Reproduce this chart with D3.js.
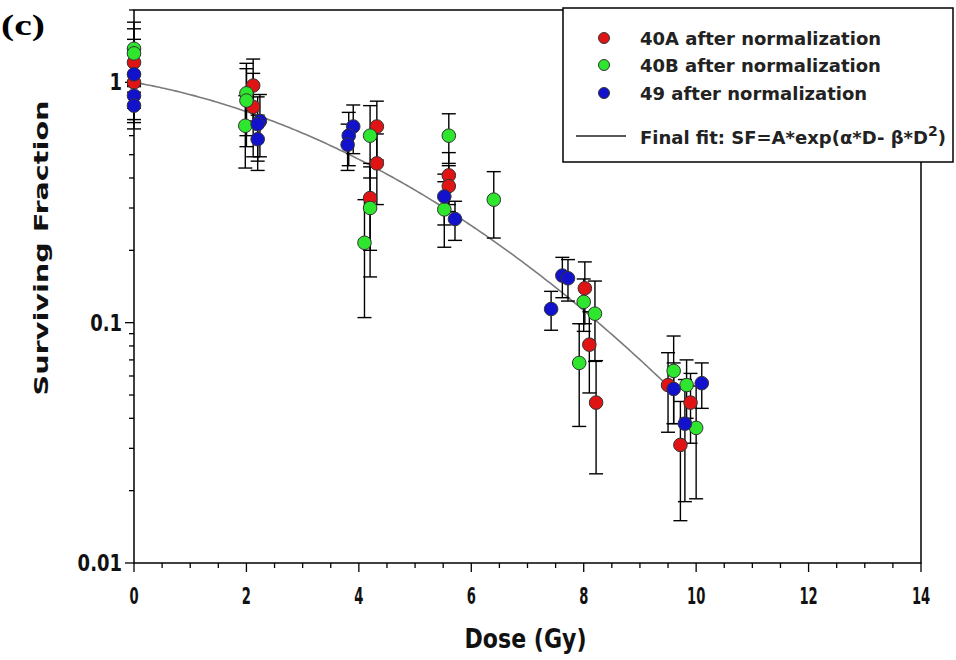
<!DOCTYPE html>
<html><head><meta charset="utf-8">
<script src="https://cdn.jsdelivr.net/npm/d3@7"></script>
<style>body{margin:0;background:#fff}svg{display:block}</style>
</head><body>
<script>
// ---- data ----
const dose40A = [0, 0, 2.12, 2.12, 4.32, 4.32, 4.2, 5.6, 5.6, 8.02, 8.1, 8.22, 9.5, 9.9, 9.72];
const sf40A   = [1.21, 1.0, 0.97, 0.79, 0.655, 0.46, 0.33, 0.41, 0.37, 0.139, 0.081, 0.0465, 0.055, 0.0465, 0.031];
const err40A  = [0.3, 0.3, 0.28, 0.3, 0.18, 0.15, 0.13, 0.1, 0.08, 0.04, 0.03, 0.023, 0.02, 0.015, 0.016];

const dose40B = [0, 0, 2.0, 2.0, 1.98, 4.2, 4.2, 4.1, 5.6, 5.52, 6.4, 8.0, 8.2, 7.92, 9.6, 9.83, 10.0];
const sf40B   = [1.38, 1.32, 0.90, 0.84, 0.66, 0.6, 0.30, 0.215, 0.6, 0.296, 0.325, 0.122, 0.109, 0.068, 0.063, 0.055, 0.0365];
const err40B  = [0.4, 0.35, 0.3, 0.3, 0.22, 0.2, 0.145, 0.11, 0.14, 0.09, 0.1, 0.03, 0.04, 0.031, 0.025, 0.015, 0.018];

const dose49 = [0, 0, 0, 2.24, 2.2, 2.2, 3.9, 3.82, 3.8, 5.52, 5.71, 7.42, 7.62, 7.72, 9.6, 10.1, 9.8];
const sf49   = [1.08, 0.88, 0.8, 0.69, 0.67, 0.58, 0.655, 0.6, 0.55, 0.335, 0.27, 0.114, 0.157, 0.153, 0.053, 0.056, 0.038];
const err49  = [0.3, 0.2, 0.16, 0.2, 0.2, 0.15, 0.15, 0.15, 0.12, 0.08, 0.05, 0.021, 0.03, 0.03, 0.015, 0.012, 0.02];

const seriesNames = ["40A after normalization", "40B after normalization", "49 after normalization"];
const fitLabel = "Final fit: SF=A*exp(\u03B1*D- \u03B2*D";
const fitA = 1.0, fitAlpha = 0.0958, fitBeta = 0.02216, fitDoseMax = 9.5;
const xTicks = [0, 2, 4, 6, 8, 10, 12, 14];
const yTicks = [0.01, 0.1, 1];

// ---- layout ----
const W = 956, H = 660;
const L = 134, R = 921, T = 10, B = 563;
const colors = ["#e01414", "#2ee62e", "#1212cc"];
const SANS = "'DejaVu Sans','Liberation Sans',Arial,sans-serif";

const svg = d3.select("body").append("svg").attr("width", W).attr("height", H);
const x = d3.scaleLinear().domain([0, 14]).range([L, R]);
const y = d3.scaleLog().domain([0.01, 2]).range([B, T]);

function label(parent, px, py, str, o) {
  const g = parent.append("g").attr("transform",
    `translate(${px},${py})` + (o.rot ? ` rotate(${o.rot})` : "") + ` scale(${o.sx || 1},${o.sy || 1})`);
  const t = g.append("text").attr("x", 0).attr("y", 0).attr("text-anchor", o.anchor || "start")
    .style("font-family", o.family || SANS).style("font-weight", "bold")
    .style("font-size", o.size + "px").style("fill", o.fill || "#111").text(str);
  if (o.len) t.attr("textLength", o.len).attr("lengthAdjust", "spacingAndGlyphs");
  return t;
}

// frame
svg.append("rect").attr("x", L).attr("y", T).attr("width", R - L).attr("height", B - T)
  .attr("fill", "none").attr("stroke", "#000").attr("stroke-width", 1.5);

// x axis ticks
const xMinor = d3.range(0, 14.01, 0.5);
const xAx = svg.append("g").attr("transform", `translate(0,${B})`);
xAx.selectAll("line").data(xMinor).join("line")
  .attr("x1", d => x(d)).attr("x2", d => x(d)).attr("y1", 0).attr("y2", d => d % 2 === 0 ? 9 : 5)
  .attr("stroke", "#000").attr("stroke-width", 1.3);
xTicks.forEach(d => label(svg, x(d), 604, d, { size: 16, sx: 0.82, sy: 1.45, anchor: "middle" }));

// y axis ticks
const yMinor = [];
[0.01, 0.1, 1].forEach(dec => { for (let k = 1; k <= 9; k++) { const v = dec * k; if (v <= 2.0001) yMinor.push(v); } });
const yAx = svg.append("g").attr("transform", `translate(${L},0)`);
yAx.selectAll("line").data(yMinor).join("line")
  .attr("x1", d => yTicks.some(t => Math.abs(t - d) < 1e-9) ? -9 : -5).attr("x2", 0)
  .attr("y1", d => y(d)).attr("y2", d => y(d))
  .attr("stroke", "#000").attr("stroke-width", 1.3);
yTicks.forEach(d => label(svg, L - 12, y(d) + 8, d, { size: 18, sy: 1.25, anchor: "end" }));

// axis titles
label(svg, (L + R) / 2 - 2, 648, "Dose (Gy)", { size: 19, sy: 1.4, anchor: "middle", len: 122 });
label(svg, 48, 248, "Surviving Fraction", { size: 20, rot: -90, anchor: "middle", len: 295 });
label(svg, 1, 35, "(c)", { size: 30, anchor: "start", family: "'Liberation Serif','Times New Roman',serif", fill: "#000", len: 44 });

// fit curve
const fitD = d3.range(0, fitDoseMax + 0.001, 0.05);
svg.append("path").datum(fitD)
  .attr("d", d3.line().x(d => x(d)).y(d => y(fitA * Math.exp(-fitAlpha * d - fitBeta * d * d))))
  .attr("fill", "none").attr("stroke", "#7a7a7a").attr("stroke-width", 1.6);

// data
const series = [
  { dose: dose40A, sf: sf40A, err: err40A, color: colors[0] },
  { dose: dose40B, sf: sf40B, err: err40B, color: colors[1] },
  { dose: dose49,  sf: sf49,  err: err49,  color: colors[2] }
];
const cap = 7;
series.forEach(s => {
  const pts = s.dose.map((d, i) => ({ d, v: s.sf[i], e: s.err[i] }));
  const g = svg.append("g");
  pts.forEach(p => {
    const lo = Math.max(p.v - p.e, 0.0101), hi = p.v + p.e;
    g.append("line").attr("x1", x(p.d)).attr("x2", x(p.d)).attr("y1", y(lo)).attr("y2", y(hi))
      .attr("stroke", "#000").attr("stroke-width", 1.4);
    [lo, hi].forEach(b => g.append("line").attr("x1", x(p.d) - cap).attr("x2", x(p.d) + cap)
      .attr("y1", y(b)).attr("y2", y(b)).attr("stroke", "#000").attr("stroke-width", 1.4));
  });
});
series.forEach(s => {
  const pts = s.dose.map((d, i) => ({ d, v: s.sf[i] }));
  svg.append("g").selectAll("circle").data(pts).join("circle")
    .attr("cx", p => x(p.d)).attr("cy", p => y(p.v)).attr("r", 6.8)
    .attr("fill", s.color).attr("stroke", "#333").attr("stroke-width", 1);
});

// legend
const lg = svg.append("g");
lg.append("rect").attr("x", 563).attr("y", 8).attr("width", 390).attr("height", 154)
  .attr("fill", "#fff").attr("stroke", "#000").attr("stroke-width", 1.5);
const rowY = [38, 65, 93];
seriesNames.forEach((n, i) => {
  lg.append("circle").attr("cx", 604).attr("cy", rowY[i]).attr("r", 5.5)
    .attr("fill", colors[i]).attr("stroke", "#333").attr("stroke-width", 1);
  label(lg, 640, rowY[i] + 7, n, { size: 18, fill: "#222" });
});
lg.append("line").attr("x1", 576).attr("x2", 626).attr("y1", 136).attr("y2", 136)
  .attr("stroke", "#222").attr("stroke-width", 1.5);
const ft = lg.append("text").attr("x", 640).attr("y", 144)
  .style("font-family", SANS).style("font-weight", "bold").style("font-size", "18px").style("fill", "#222");
ft.append("tspan").text(fitLabel);
ft.append("tspan").attr("dy", -8).style("font-size", "14px").text("2");
ft.append("tspan").attr("dy", 8).text(")");
</script>
</body></html>
